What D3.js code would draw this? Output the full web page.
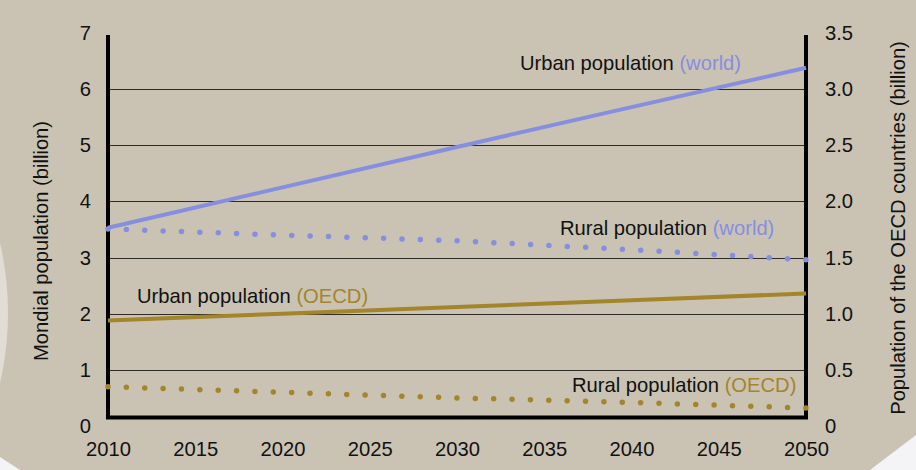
<!DOCTYPE html>
<html>
<head>
<meta charset="utf-8">
<script src="https://cdn.jsdelivr.net/npm/d3@7"></script>
<style>
  body { margin: 0; background: #cac3b4; }
  svg { display: block; font-family: "Liberation Sans", Arial, sans-serif; }
</style>
</head>
<body>
<svg id="chart" width="916" height="470"></svg>
<script>
// values
const years = [2010, 2020, 2030, 2040, 2050];
const urbanWorld = [3.53, 4.25, 4.97, 5.68, 6.38];   // billion, left axis
const ruralWorld = [3.51, 3.40, 3.30, 3.14, 2.96];
const urbanOecd = [0.94, 1.00, 1.06, 1.12, 1.18];    // billion, right axis
const ruralOecd = [0.35, 0.30, 0.25, 0.21, 0.16];

const xTicks = [2010, 2015, 2020, 2025, 2030, 2035, 2040, 2045, 2050];
const leftTicks = [0, 1, 2, 3, 4, 5, 6, 7];
const rightTicks = [0, 0.5, 1, 1.5, 2, 2.5, 3, 3.5];

const blue = '#868ee0';
const gold = '#a3852a';
const fs = 20.2;

const svg = d3.select('#chart');
const W = 916, H = 470;
const plotL = 108, plotR = 806, plotT = 35, plotB = 417.5;

svg.append('rect').attr('width', W).attr('height', H).attr('fill', '#cac3b4');
// light shapes in the background
svg.append('circle').attr('cx', -302).attr('cy', 313).attr('r', 310).attr('fill', '#e1ddd4');
svg.append('path').attr('d', 'M0,457 L20,470 L0,470 Z').attr('fill', '#f4f4f6');
svg.append('path').attr('d', 'M916,435 L870,470 L916,470 Z').attr('fill', '#f4f4f6');

const x = d3.scaleLinear().domain([2010, 2050]).range([plotL, plotR]);
const y = d3.scaleLinear().domain([0, 7]).range([426, 33]);
const yR = d3.scaleLinear().domain([0, 3.5]).range([426, 33]);

// grid
svg.append('g')
  .selectAll('line')
  .data(leftTicks.filter(d => d > 0 && d < 7))
  .enter()
  .append('line')
  .attr('x1', plotL).attr('x2', plotR)
  .attr('y1', d => Math.round(y(d)) + 0.5).attr('y2', d => Math.round(y(d)) + 0.5)
  .attr('stroke', '#2f2c28').attr('stroke-width', 1);

// axes (labels only, lines drawn below)
const axisL = svg.append('g').attr('transform', `translate(${plotL},0)`)
  .call(d3.axisLeft(y).tickValues(leftTicks).tickSize(0).tickPadding(17).tickFormat(d3.format('d')));
const axisR = svg.append('g').attr('transform', `translate(${plotR},0)`)
  .call(d3.axisRight(yR).tickValues(rightTicks).tickSize(0).tickPadding(19)
    .tickFormat(d => d === 0 ? '0' : d.toFixed(1)));
const axisB = svg.append('g').attr('transform', `translate(0,${plotB})`)
  .call(d3.axisBottom(x).tickValues(xTicks).tickSize(0).tickPadding(24).tickFormat(d3.format('d')));
[axisL, axisR, axisB].forEach(a => {
  a.select('.domain').remove();
  a.selectAll('text').attr('font-size', fs).attr('fill', '#111')
    .attr('font-family', '"Liberation Sans", Arial, sans-serif');
});

// frame
svg.append('path')
  .attr('d', `M${plotL},${plotT} V${plotB} H${plotR} V${plotT}`)
  .attr('fill', 'none').attr('stroke', '#000').attr('stroke-width', 4);

// series
const lineL = d3.line().x((d, i) => x(years[i])).y(d => y(d));
const lineR = d3.line().x((d, i) => x(years[i])).y(d => yR(d));

svg.append('path').datum(urbanWorld).attr('d', lineL)
  .attr('fill', 'none').attr('stroke', blue).attr('stroke-width', 4);
svg.append('path').datum(urbanOecd).attr('d', lineR)
  .attr('fill', 'none').attr('stroke', gold).attr('stroke-width', 4);

const dotted = (data, line, color) => {
  const p = svg.append('path').datum(data).attr('d', line)
    .attr('fill', 'none').attr('stroke', color).attr('stroke-width', 5.5)
    .attr('stroke-linecap', 'round');
  p.attr('stroke-dasharray', `0 ${p.node().getTotalLength() / 38 - 0.002}`);
};
dotted(ruralWorld, lineL, blue);
dotted(ruralOecd, lineR, gold);

// series labels
const labels = [
  { name: 'Urban population ', tag: '(world)', color: blue, x: 520, y: 70 },
  { name: 'Rural population ', tag: '(world)', color: blue, x: 560, y: 235 },
  { name: 'Urban population ', tag: '(OECD)', color: gold, x: 137, y: 303 },
  { name: 'Rural population ', tag: '(OECD)', color: gold, x: 572, y: 392 }
];
labels.forEach(l => {
  const t = svg.append('text').attr('x', l.x).attr('y', l.y)
    .attr('font-size', fs).attr('fill', '#111');
  t.append('tspan').text(l.name);
  t.append('tspan').attr('fill', l.color).text(l.tag);
});

// axis titles
svg.append('text')
  .attr('transform', 'translate(48,241) rotate(-90)')
  .attr('text-anchor', 'middle').attr('font-size', fs).attr('fill', '#111')
  .text('Mondial population (billion)');
svg.append('text')
  .attr('transform', 'translate(905,228) rotate(-90)')
  .attr('text-anchor', 'middle').attr('font-size', fs).attr('fill', '#111')
  .text('Population of the OECD countries (billion)');
</script>
</body>
</html>
